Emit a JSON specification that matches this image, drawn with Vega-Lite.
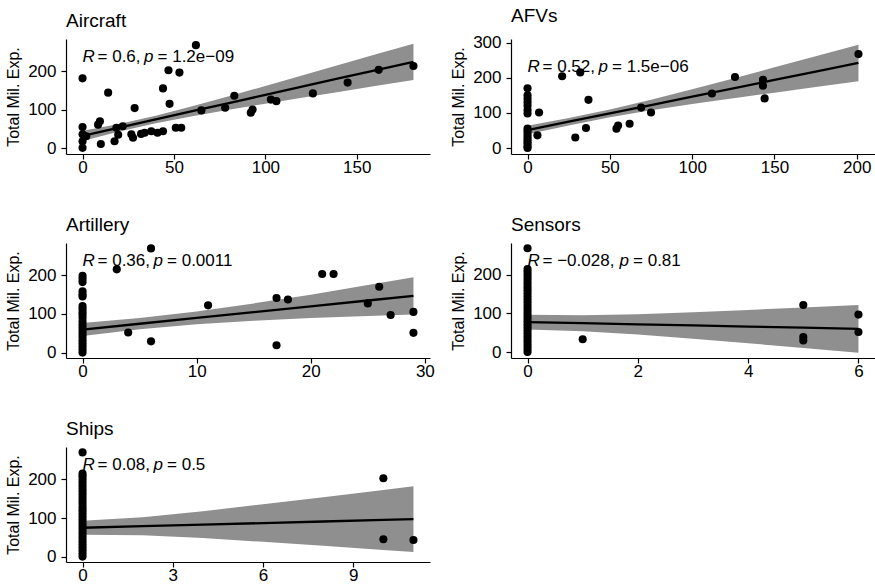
{
  "$schema": "https://vega.github.io/schema/vega-lite/v6.json",
  "background": "white",
  "padding": {"left": 5, "top": 6, "right": 0, "bottom": 0},
  "config": {
    "font": "Liberation Sans",
    "view": {"stroke": null},
    "axis": {"grid": false, "domainColor": "black", "tickColor": "black", "labelColor": "black", "labelFontSize": 17, "titleFontSize": 16, "titleFontWeight": "normal", "titleColor": "black", "tickSize": 5, "domainWidth": 1.2, "tickWidth": 1.2, "labelPadding": 5, "titlePadding": 6},
    "axisX": {"labelPadding": 0},
    "title": {"fontSize": 19, "fontWeight": "normal", "anchor": "start", "frame": "group", "color": "black", "offset": 8}
  },
  "datasets": {
    "points": [
      {"panel": "Aircraft", "x": 0, "y": 181}, {"panel": "Aircraft", "x": 0, "y": 55}, {"panel": "Aircraft", "x": 0, "y": 36}, {"panel": "Aircraft", "x": 0, "y": 18}, {"panel": "Aircraft", "x": 0, "y": 1}, {"panel": "Aircraft", "x": 2, "y": 31}, {"panel": "Aircraft", "x": 8.5, "y": 61}, {"panel": "Aircraft", "x": 9.5, "y": 70}, {"panel": "Aircraft", "x": 10, "y": 11}, {"panel": "Aircraft", "x": 14, "y": 144}, {"panel": "Aircraft", "x": 17.5, "y": 18}, {"panel": "Aircraft", "x": 18.5, "y": 53}, {"panel": "Aircraft", "x": 19.5, "y": 35}, {"panel": "Aircraft", "x": 22, "y": 57}, {"panel": "Aircraft", "x": 26.7, "y": 36}, {"panel": "Aircraft", "x": 27.6, "y": 27}, {"panel": "Aircraft", "x": 28.5, "y": 104}, {"panel": "Aircraft", "x": 32, "y": 37}, {"panel": "Aircraft", "x": 34, "y": 40}, {"panel": "Aircraft", "x": 37.6, "y": 44}, {"panel": "Aircraft", "x": 41, "y": 40}, {"panel": "Aircraft", "x": 44, "y": 44}, {"panel": "Aircraft", "x": 44, "y": 155}, {"panel": "Aircraft", "x": 47, "y": 202}, {"panel": "Aircraft", "x": 47.6, "y": 115}, {"panel": "Aircraft", "x": 51, "y": 53}, {"panel": "Aircraft", "x": 53, "y": 196}, {"panel": "Aircraft", "x": 54, "y": 53}, {"panel": "Aircraft", "x": 62, "y": 267}, {"panel": "Aircraft", "x": 65, "y": 98}, {"panel": "Aircraft", "x": 78, "y": 105}, {"panel": "Aircraft", "x": 83, "y": 136}, {"panel": "Aircraft", "x": 92, "y": 92}, {"panel": "Aircraft", "x": 93, "y": 100}, {"panel": "Aircraft", "x": 103, "y": 126}, {"panel": "Aircraft", "x": 106, "y": 122}, {"panel": "Aircraft", "x": 126, "y": 142}, {"panel": "Aircraft", "x": 145, "y": 170}, {"panel": "Aircraft", "x": 162, "y": 203}, {"panel": "Aircraft", "x": 181, "y": 213},

      {"panel": "AFVs", "x": 0, "y": 170}, {"panel": "AFVs", "x": 0, "y": 150}, {"panel": "AFVs", "x": 0, "y": 140}, {"panel": "AFVs", "x": 0, "y": 130}, {"panel": "AFVs", "x": 0, "y": 120}, {"panel": "AFVs", "x": 0, "y": 108}, {"panel": "AFVs", "x": 0, "y": 98}, {"panel": "AFVs", "x": 0, "y": 55}, {"panel": "AFVs", "x": 0, "y": 48}, {"panel": "AFVs", "x": 0, "y": 40}, {"panel": "AFVs", "x": 0, "y": 32}, {"panel": "AFVs", "x": 0, "y": 25}, {"panel": "AFVs", "x": 0, "y": 18}, {"panel": "AFVs", "x": 0, "y": 12}, {"panel": "AFVs", "x": 0, "y": 5}, {"panel": "AFVs", "x": 0, "y": 0}, {"panel": "AFVs", "x": 7, "y": 101}, {"panel": "AFVs", "x": 6, "y": 36}, {"panel": "AFVs", "x": 21, "y": 204}, {"panel": "AFVs", "x": 32, "y": 215}, {"panel": "AFVs", "x": 37, "y": 137}, {"panel": "AFVs", "x": 35.5, "y": 57}, {"panel": "AFVs", "x": 29, "y": 30}, {"panel": "AFVs", "x": 54, "y": 55}, {"panel": "AFVs", "x": 55, "y": 64}, {"panel": "AFVs", "x": 62, "y": 69}, {"panel": "AFVs", "x": 69, "y": 115}, {"panel": "AFVs", "x": 75, "y": 101}, {"panel": "AFVs", "x": 112, "y": 155}, {"panel": "AFVs", "x": 126, "y": 202}, {"panel": "AFVs", "x": 143, "y": 194}, {"panel": "AFVs", "x": 143, "y": 177}, {"panel": "AFVs", "x": 144, "y": 141}, {"panel": "AFVs", "x": 201, "y": 267},

      {"panel": "Artillery", "x": 0, "y": 198}, {"panel": "Artillery", "x": 0, "y": 190}, {"panel": "Artillery", "x": 0, "y": 182}, {"panel": "Artillery", "x": 0, "y": 158}, {"panel": "Artillery", "x": 0, "y": 150}, {"panel": "Artillery", "x": 0, "y": 145}, {"panel": "Artillery", "x": 0, "y": 120}, {"panel": "Artillery", "x": 0, "y": 113}, {"panel": "Artillery", "x": 0, "y": 105}, {"panel": "Artillery", "x": 0, "y": 98}, {"panel": "Artillery", "x": 0, "y": 90}, {"panel": "Artillery", "x": 0, "y": 80}, {"panel": "Artillery", "x": 0, "y": 72}, {"panel": "Artillery", "x": 0, "y": 64}, {"panel": "Artillery", "x": 0, "y": 56}, {"panel": "Artillery", "x": 0, "y": 48}, {"panel": "Artillery", "x": 0, "y": 40}, {"panel": "Artillery", "x": 0, "y": 32}, {"panel": "Artillery", "x": 0, "y": 24}, {"panel": "Artillery", "x": 0, "y": 16}, {"panel": "Artillery", "x": 0, "y": 8}, {"panel": "Artillery", "x": 0, "y": 0}, {"panel": "Artillery", "x": 6, "y": 269}, {"panel": "Artillery", "x": 3, "y": 215}, {"panel": "Artillery", "x": 4, "y": 52}, {"panel": "Artillery", "x": 6, "y": 29}, {"panel": "Artillery", "x": 11, "y": 122}, {"panel": "Artillery", "x": 17, "y": 141}, {"panel": "Artillery", "x": 18, "y": 137}, {"panel": "Artillery", "x": 17, "y": 19}, {"panel": "Artillery", "x": 21, "y": 203}, {"panel": "Artillery", "x": 22, "y": 203}, {"panel": "Artillery", "x": 25, "y": 127}, {"panel": "Artillery", "x": 26, "y": 170}, {"panel": "Artillery", "x": 27, "y": 97}, {"panel": "Artillery", "x": 29, "y": 105}, {"panel": "Artillery", "x": 29, "y": 51},

      {"panel": "Sensors", "x": 0, "y": 269}, {"panel": "Sensors", "x": 0, "y": 215}, {"panel": "Sensors", "x": 0, "y": 208}, {"panel": "Sensors", "x": 0, "y": 200}, {"panel": "Sensors", "x": 0, "y": 192}, {"panel": "Sensors", "x": 0, "y": 184}, {"panel": "Sensors", "x": 0, "y": 176}, {"panel": "Sensors", "x": 0, "y": 168}, {"panel": "Sensors", "x": 0, "y": 160}, {"panel": "Sensors", "x": 0, "y": 152}, {"panel": "Sensors", "x": 0, "y": 144}, {"panel": "Sensors", "x": 0, "y": 136}, {"panel": "Sensors", "x": 0, "y": 128}, {"panel": "Sensors", "x": 0, "y": 120}, {"panel": "Sensors", "x": 0, "y": 112}, {"panel": "Sensors", "x": 0, "y": 104}, {"panel": "Sensors", "x": 0, "y": 96}, {"panel": "Sensors", "x": 0, "y": 88}, {"panel": "Sensors", "x": 0, "y": 80}, {"panel": "Sensors", "x": 0, "y": 72}, {"panel": "Sensors", "x": 0, "y": 64}, {"panel": "Sensors", "x": 0, "y": 56}, {"panel": "Sensors", "x": 0, "y": 48}, {"panel": "Sensors", "x": 0, "y": 40}, {"panel": "Sensors", "x": 0, "y": 32}, {"panel": "Sensors", "x": 0, "y": 24}, {"panel": "Sensors", "x": 0, "y": 16}, {"panel": "Sensors", "x": 0, "y": 8}, {"panel": "Sensors", "x": 0, "y": 0}, {"panel": "Sensors", "x": 1, "y": 33}, {"panel": "Sensors", "x": 5, "y": 122}, {"panel": "Sensors", "x": 5, "y": 39}, {"panel": "Sensors", "x": 5, "y": 30}, {"panel": "Sensors", "x": 6, "y": 97}, {"panel": "Sensors", "x": 6, "y": 52},

      {"panel": "Ships", "x": 0, "y": 270}, {"panel": "Ships", "x": 0, "y": 215}, {"panel": "Ships", "x": 0, "y": 208}, {"panel": "Ships", "x": 0, "y": 200}, {"panel": "Ships", "x": 0, "y": 192}, {"panel": "Ships", "x": 0, "y": 184}, {"panel": "Ships", "x": 0, "y": 176}, {"panel": "Ships", "x": 0, "y": 168}, {"panel": "Ships", "x": 0, "y": 160}, {"panel": "Ships", "x": 0, "y": 152}, {"panel": "Ships", "x": 0, "y": 144}, {"panel": "Ships", "x": 0, "y": 136}, {"panel": "Ships", "x": 0, "y": 128}, {"panel": "Ships", "x": 0, "y": 120}, {"panel": "Ships", "x": 0, "y": 112}, {"panel": "Ships", "x": 0, "y": 104}, {"panel": "Ships", "x": 0, "y": 96}, {"panel": "Ships", "x": 0, "y": 88}, {"panel": "Ships", "x": 0, "y": 80}, {"panel": "Ships", "x": 0, "y": 72}, {"panel": "Ships", "x": 0, "y": 64}, {"panel": "Ships", "x": 0, "y": 56}, {"panel": "Ships", "x": 0, "y": 48}, {"panel": "Ships", "x": 0, "y": 40}, {"panel": "Ships", "x": 0, "y": 32}, {"panel": "Ships", "x": 0, "y": 24}, {"panel": "Ships", "x": 0, "y": 16}, {"panel": "Ships", "x": 0, "y": 8}, {"panel": "Ships", "x": 0, "y": 0}, {"panel": "Ships", "x": 10, "y": 203}, {"panel": "Ships", "x": 10, "y": 45}, {"panel": "Ships", "x": 11, "y": 43}
    ],
    "fits": [
      {"panel": "Aircraft", "x": 0, "y": 32, "lo": 19, "hi": 45}, {"panel": "Aircraft", "x": 20, "y": 53.3, "lo": 43.6, "hi": 63}, {"panel": "Aircraft", "x": 40, "y": 74.5, "lo": 64.8, "hi": 84.2}, {"panel": "Aircraft", "x": 60, "y": 95.8, "lo": 83.1, "hi": 108.5}, {"panel": "Aircraft", "x": 80, "y": 117, "lo": 99.4, "hi": 134.6}, {"panel": "Aircraft", "x": 100, "y": 138.3, "lo": 115.3, "hi": 161.3}, {"panel": "Aircraft", "x": 120, "y": 159.5, "lo": 130.5, "hi": 188.5}, {"panel": "Aircraft", "x": 140, "y": 180.8, "lo": 145.8, "hi": 215.8}, {"panel": "Aircraft", "x": 160, "y": 202, "lo": 161, "hi": 243}, {"panel": "Aircraft", "x": 181, "y": 224, "lo": 177, "hi": 271},
      {"panel": "AFVs", "x": 0, "y": 51, "lo": 39, "hi": 63}, {"panel": "AFVs", "x": 25, "y": 74.8, "lo": 64.3, "hi": 85.3}, {"panel": "AFVs", "x": 50, "y": 98.5, "lo": 87.5, "hi": 109.5}, {"panel": "AFVs", "x": 75, "y": 122.3, "lo": 107.3, "hi": 137.3}, {"panel": "AFVs", "x": 100, "y": 146, "lo": 125, "hi": 167}, {"panel": "AFVs", "x": 125, "y": 169.8, "lo": 141.8, "hi": 197.8}, {"panel": "AFVs", "x": 150, "y": 193.5, "lo": 157.5, "hi": 229.5}, {"panel": "AFVs", "x": 175, "y": 217.3, "lo": 173.3, "hi": 261.3}, {"panel": "AFVs", "x": 201, "y": 242, "lo": 190, "hi": 294},
      {"panel": "Artillery", "x": 0, "y": 59.5, "lo": 42.5, "hi": 76.5}, {"panel": "Artillery", "x": 5, "y": 74.5, "lo": 60, "hi": 89}, {"panel": "Artillery", "x": 10, "y": 89.5, "lo": 73, "hi": 106}, {"panel": "Artillery", "x": 15, "y": 104.5, "lo": 82, "hi": 127}, {"panel": "Artillery", "x": 20, "y": 119.5, "lo": 89.5, "hi": 149.5}, {"panel": "Artillery", "x": 25, "y": 134.5, "lo": 94.5, "hi": 174.5}, {"panel": "Artillery", "x": 29, "y": 146.5, "lo": 98.5, "hi": 194.5},
      {"panel": "Sensors", "x": 0, "y": 77.6, "lo": 58.6, "hi": 96.6}, {"panel": "Sensors", "x": 1, "y": 74.7, "lo": 54, "hi": 95.4}, {"panel": "Sensors", "x": 2, "y": 71.7, "lo": 45.3, "hi": 98.1}, {"panel": "Sensors", "x": 3, "y": 68.8, "lo": 34.5, "hi": 103.1}, {"panel": "Sensors", "x": 4, "y": 65.9, "lo": 22.8, "hi": 109}, {"panel": "Sensors", "x": 5, "y": 63, "lo": 10.6, "hi": 115.4}, {"panel": "Sensors", "x": 6, "y": 60, "lo": -2, "hi": 122},
      {"panel": "Ships", "x": 0, "y": 74.7, "lo": 56.7, "hi": 92.7}, {"panel": "Ships", "x": 2, "y": 78.8, "lo": 55.6, "hi": 102}, {"panel": "Ships", "x": 4, "y": 82.8, "lo": 48, "hi": 117.6}, {"panel": "Ships", "x": 6, "y": 86.9, "lo": 38.2, "hi": 135.6}, {"panel": "Ships", "x": 8, "y": 90.9, "lo": 27.9, "hi": 153.9}, {"panel": "Ships", "x": 10, "y": 95, "lo": 17.4, "hi": 172.6}, {"panel": "Ships", "x": 11, "y": 97, "lo": 12, "hi": 182}
    ],
    "labels": [
      {"panel": "Aircraft", "x": 0, "y": 224, "r": "= 0.6,", "p": "= 1.2e−09"},
      {"panel": "AFVs", "x": 0, "y": 217, "r": "= 0.52,", "p": "= 1.5e−06"},
      {"panel": "Artillery", "x": 0, "y": 224, "r": "= 0.36,", "p": "= 0.0011"},
      {"panel": "Sensors", "x": 0, "y": 224, "r": "= −0.028,", "p": "= 0.81"},
      {"panel": "Ships", "x": 0, "y": 224, "r": "= 0.08,", "p": "= 0.5"}
    ]
  },
  "columns": 2,
  "spacing": {"row": 41, "column": 15},
  "concat": [
    {
      "title": "Aircraft", "width": 364, "height": 115,
      "encoding": {
        "x": {"field": "x", "type": "quantitative", "scale": {"domain": [-9.05, 190.05], "nice": false, "zero": false}, "axis": {"values": [0, 50, 100, 150], "title": null}},
        "y": {"field": "y", "type": "quantitative", "title": "Total Mil. Exp.", "scale": {"domain": [-15, 283], "nice": false, "zero": false}, "axis": {"values": [0, 100, 200]}}
      },
      "layer": [
        {"data": {"name": "fits"}, "transform": [{"filter": "datum.panel === 'Aircraft'"}], "mark": {"type": "area", "color": "#8f8f8f", "opacity": 1}, "encoding": {"y": {"field": "lo", "type": "quantitative", "title": "Total Mil. Exp."}, "y2": {"field": "hi"}}},
        {"data": {"name": "fits"}, "transform": [{"filter": "datum.panel === 'Aircraft'"}], "mark": {"type": "line", "color": "black", "strokeWidth": 2.3}, "encoding": {}},
        {"data": {"name": "points"}, "transform": [{"filter": "datum.panel === 'Aircraft'"}], "mark": {"type": "circle", "color": "black", "size": 66, "opacity": 1}, "encoding": {}},
        {"data": {"name": "labels"}, "transform": [{"filter": "datum.panel === 'Aircraft'"}], "mark": {"type": "text", "text": "R", "fontStyle": "italic", "fontSize": 17, "align": "left", "baseline": "alphabetic", "color": "black"}, "encoding": {}},
        {"data": {"name": "labels"}, "transform": [{"filter": "datum.panel === 'Aircraft'"}], "mark": {"type": "text", "dx": 15, "fontSize": 17, "align": "left", "baseline": "alphabetic", "color": "black"}, "encoding": {"text": {"field": "r"}}},
        {"data": {"name": "labels"}, "transform": [{"filter": "datum.panel === 'Aircraft'"}], "mark": {"type": "text", "text": "p", "fontStyle": "italic", "dx": 61.5, "fontSize": 17, "align": "left", "baseline": "alphabetic", "color": "black"}, "encoding": {}},
        {"data": {"name": "labels"}, "transform": [{"filter": "datum.panel === 'Aircraft'"}], "mark": {"type": "text", "dx": 75, "fontSize": 17, "align": "left", "baseline": "alphabetic", "color": "black"}, "encoding": {"text": {"field": "p"}}}
      ]
    },
    {
      "title": "AFVs", "width": 364, "height": 115,
      "encoding": {
        "x": {"field": "x", "type": "quantitative", "scale": {"domain": [-10.05, 211.05], "nice": false, "zero": false}, "axis": {"values": [0, 50, 100, 150, 200], "title": null}},
        "y": {"field": "y", "type": "quantitative", "title": "Total Mil. Exp.", "scale": {"domain": [-17, 310], "nice": false, "zero": false}, "axis": {"values": [0, 100, 200, 300]}}
      },
      "layer": [
        {"data": {"name": "fits"}, "transform": [{"filter": "datum.panel === 'AFVs'"}], "mark": {"type": "area", "color": "#8f8f8f", "opacity": 1}, "encoding": {"y": {"field": "lo", "type": "quantitative", "title": "Total Mil. Exp."}, "y2": {"field": "hi"}}},
        {"data": {"name": "fits"}, "transform": [{"filter": "datum.panel === 'AFVs'"}], "mark": {"type": "line", "color": "black", "strokeWidth": 2.3}, "encoding": {}},
        {"data": {"name": "points"}, "transform": [{"filter": "datum.panel === 'AFVs'"}], "mark": {"type": "circle", "color": "black", "size": 66, "opacity": 1}, "encoding": {}},
        {"data": {"name": "labels"}, "transform": [{"filter": "datum.panel === 'AFVs'"}], "mark": {"type": "text", "text": "R", "fontStyle": "italic", "fontSize": 17, "align": "left", "baseline": "alphabetic", "color": "black"}, "encoding": {}},
        {"data": {"name": "labels"}, "transform": [{"filter": "datum.panel === 'AFVs'"}], "mark": {"type": "text", "dx": 15, "fontSize": 17, "align": "left", "baseline": "alphabetic", "color": "black"}, "encoding": {"text": {"field": "r"}}},
        {"data": {"name": "labels"}, "transform": [{"filter": "datum.panel === 'AFVs'"}], "mark": {"type": "text", "text": "p", "fontStyle": "italic", "dx": 71, "fontSize": 17, "align": "left", "baseline": "alphabetic", "color": "black"}, "encoding": {}},
        {"data": {"name": "labels"}, "transform": [{"filter": "datum.panel === 'AFVs'"}], "mark": {"type": "text", "dx": 84.5, "fontSize": 17, "align": "left", "baseline": "alphabetic", "color": "black"}, "encoding": {"text": {"field": "p"}}}
      ]
    },
    {
      "title": "Artillery", "width": 364, "height": 115,
      "encoding": {
        "x": {"field": "x", "type": "quantitative", "scale": {"domain": [-1.45, 30.45], "nice": false, "zero": false}, "axis": {"values": [0, 10, 20, 30], "title": null}},
        "y": {"field": "y", "type": "quantitative", "title": "Total Mil. Exp.", "scale": {"domain": [-14, 283], "nice": false, "zero": false}, "axis": {"values": [0, 100, 200]}}
      },
      "layer": [
        {"data": {"name": "fits"}, "transform": [{"filter": "datum.panel === 'Artillery'"}], "mark": {"type": "area", "color": "#8f8f8f", "opacity": 1}, "encoding": {"y": {"field": "lo", "type": "quantitative", "title": "Total Mil. Exp."}, "y2": {"field": "hi"}}},
        {"data": {"name": "fits"}, "transform": [{"filter": "datum.panel === 'Artillery'"}], "mark": {"type": "line", "color": "black", "strokeWidth": 2.3}, "encoding": {}},
        {"data": {"name": "points"}, "transform": [{"filter": "datum.panel === 'Artillery'"}], "mark": {"type": "circle", "color": "black", "size": 66, "opacity": 1}, "encoding": {}},
        {"data": {"name": "labels"}, "transform": [{"filter": "datum.panel === 'Artillery'"}], "mark": {"type": "text", "text": "R", "fontStyle": "italic", "fontSize": 17, "align": "left", "baseline": "alphabetic", "color": "black"}, "encoding": {}},
        {"data": {"name": "labels"}, "transform": [{"filter": "datum.panel === 'Artillery'"}], "mark": {"type": "text", "dx": 15, "fontSize": 17, "align": "left", "baseline": "alphabetic", "color": "black"}, "encoding": {"text": {"field": "r"}}},
        {"data": {"name": "labels"}, "transform": [{"filter": "datum.panel === 'Artillery'"}], "mark": {"type": "text", "text": "p", "fontStyle": "italic", "dx": 71, "fontSize": 17, "align": "left", "baseline": "alphabetic", "color": "black"}, "encoding": {}},
        {"data": {"name": "labels"}, "transform": [{"filter": "datum.panel === 'Artillery'"}], "mark": {"type": "text", "dx": 84.5, "fontSize": 17, "align": "left", "baseline": "alphabetic", "color": "black"}, "encoding": {"text": {"field": "p"}}}
      ]
    },
    {
      "title": "Sensors", "width": 364, "height": 115,
      "encoding": {
        "x": {"field": "x", "type": "quantitative", "scale": {"domain": [-0.3, 6.3], "nice": false, "zero": false}, "axis": {"values": [0, 2, 4, 6], "title": null}},
        "y": {"field": "y", "type": "quantitative", "title": "Total Mil. Exp.", "scale": {"domain": [-15.5, 282.5], "nice": false, "zero": false}, "axis": {"values": [0, 100, 200]}}
      },
      "layer": [
        {"data": {"name": "fits"}, "transform": [{"filter": "datum.panel === 'Sensors'"}], "mark": {"type": "area", "color": "#8f8f8f", "opacity": 1}, "encoding": {"y": {"field": "lo", "type": "quantitative", "title": "Total Mil. Exp."}, "y2": {"field": "hi"}}},
        {"data": {"name": "fits"}, "transform": [{"filter": "datum.panel === 'Sensors'"}], "mark": {"type": "line", "color": "black", "strokeWidth": 2.3}, "encoding": {}},
        {"data": {"name": "points"}, "transform": [{"filter": "datum.panel === 'Sensors'"}], "mark": {"type": "circle", "color": "black", "size": 66, "opacity": 1}, "encoding": {}},
        {"data": {"name": "labels"}, "transform": [{"filter": "datum.panel === 'Sensors'"}], "mark": {"type": "text", "text": "R", "fontStyle": "italic", "fontSize": 17, "align": "left", "baseline": "alphabetic", "color": "black"}, "encoding": {}},
        {"data": {"name": "labels"}, "transform": [{"filter": "datum.panel === 'Sensors'"}], "mark": {"type": "text", "dx": 15, "fontSize": 17, "align": "left", "baseline": "alphabetic", "color": "black"}, "encoding": {"text": {"field": "r"}}},
        {"data": {"name": "labels"}, "transform": [{"filter": "datum.panel === 'Sensors'"}], "mark": {"type": "text", "text": "p", "fontStyle": "italic", "dx": 92, "fontSize": 17, "align": "left", "baseline": "alphabetic", "color": "black"}, "encoding": {}},
        {"data": {"name": "labels"}, "transform": [{"filter": "datum.panel === 'Sensors'"}], "mark": {"type": "text", "dx": 105.5, "fontSize": 17, "align": "left", "baseline": "alphabetic", "color": "black"}, "encoding": {"text": {"field": "p"}}}
      ]
    },
    {
      "title": "Ships", "width": 364, "height": 115,
      "encoding": {
        "x": {"field": "x", "type": "quantitative", "scale": {"domain": [-0.55, 11.55], "nice": false, "zero": false}, "axis": {"values": [0, 3, 6, 9], "title": null}},
        "y": {"field": "y", "type": "quantitative", "title": "Total Mil. Exp.", "scale": {"domain": [-14, 284], "nice": false, "zero": false}, "axis": {"values": [0, 100, 200]}}
      },
      "layer": [
        {"data": {"name": "fits"}, "transform": [{"filter": "datum.panel === 'Ships'"}], "mark": {"type": "area", "color": "#8f8f8f", "opacity": 1}, "encoding": {"y": {"field": "lo", "type": "quantitative", "title": "Total Mil. Exp."}, "y2": {"field": "hi"}}},
        {"data": {"name": "fits"}, "transform": [{"filter": "datum.panel === 'Ships'"}], "mark": {"type": "line", "color": "black", "strokeWidth": 2.3}, "encoding": {}},
        {"data": {"name": "points"}, "transform": [{"filter": "datum.panel === 'Ships'"}], "mark": {"type": "circle", "color": "black", "size": 66, "opacity": 1}, "encoding": {}},
        {"data": {"name": "labels"}, "transform": [{"filter": "datum.panel === 'Ships'"}], "mark": {"type": "text", "text": "R", "fontStyle": "italic", "fontSize": 17, "align": "left", "baseline": "alphabetic", "color": "black"}, "encoding": {}},
        {"data": {"name": "labels"}, "transform": [{"filter": "datum.panel === 'Ships'"}], "mark": {"type": "text", "dx": 15, "fontSize": 17, "align": "left", "baseline": "alphabetic", "color": "black"}, "encoding": {"text": {"field": "r"}}},
        {"data": {"name": "labels"}, "transform": [{"filter": "datum.panel === 'Ships'"}], "mark": {"type": "text", "text": "p", "fontStyle": "italic", "dx": 71, "fontSize": 17, "align": "left", "baseline": "alphabetic", "color": "black"}, "encoding": {}},
        {"data": {"name": "labels"}, "transform": [{"filter": "datum.panel === 'Ships'"}], "mark": {"type": "text", "dx": 84.5, "fontSize": 17, "align": "left", "baseline": "alphabetic", "color": "black"}, "encoding": {"text": {"field": "p"}}}
      ]
    }
  ]
}
